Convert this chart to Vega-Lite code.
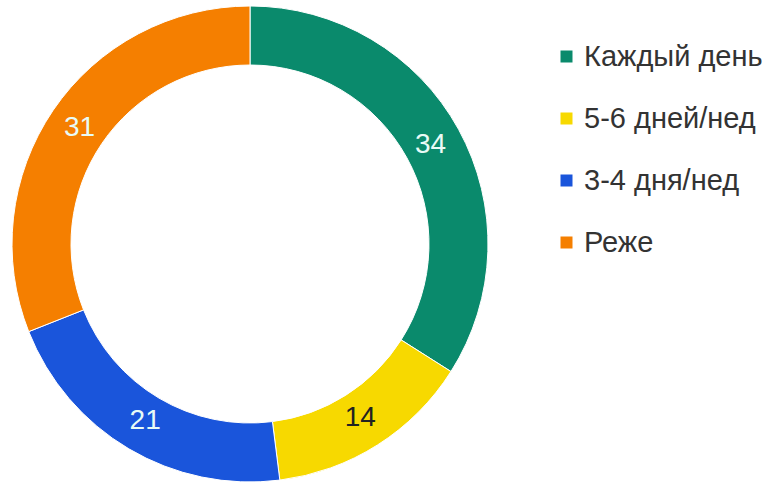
{
  "$schema": "https://vega.github.io/schema/vega-lite/v6.json",
  "width": 500,
  "height": 476,
  "autosize": "none",
  "padding": {"left": 0, "top": 6, "right": 284, "bottom": 0},
  "background": "#ffffff",
  "config": {"view": {"stroke": null}, "font": "Liberation Sans"},
  "data": {
    "values": [
      {"cat": "Каждый день", "value": 34, "ord": 1},
      {"cat": "5-6 дней/нед", "value": 14, "ord": 2},
      {"cat": "3-4 дня/нед", "value": 21, "ord": 3},
      {"cat": "Реже", "value": 31, "ord": 4}
    ]
  },
  "encoding": {
    "theta": {"field": "value", "type": "quantitative", "stack": true},
    "order": {"field": "ord", "type": "quantitative"}
  },
  "layer": [
    {
      "mark": {"type": "arc", "outerRadius": 238, "innerRadius": 179, "stroke": "#ffffff", "strokeWidth": 1},
      "encoding": {
        "color": {
          "field": "cat",
          "type": "nominal",
          "scale": {
            "domain": ["Каждый день", "5-6 дней/нед", "3-4 дня/нед", "Реже"],
            "range": ["#0a8a6c", "#f7d900", "#1a55db", "#f57f00"]
          },
          "legend": {
            "title": null,
            "orient": "none",
            "legendX": 552,
            "legendY": 36,
            "padding": 0,
            "symbolType": "square",
            "symbolSize": 144,
            "symbolStrokeWidth": 0,
            "labelFontSize": 29,
            "labelColor": "#333333",
            "labelFont": "Liberation Sans",
            "labelOffset": 3,
            "rowPadding": 32,
            "labelLimit": 300
          }
        }
      }
    },
    {
      "mark": {"type": "text", "radius": 206, "fontSize": 28, "font": "Liberation Sans"},
      "encoding": {
        "text": {"field": "value", "type": "quantitative"},
        "color": {
          "condition": {"test": "datum.cat === '5-6 дней/нед'", "value": "#222222"},
          "value": "#e8fbf6"
        }
      }
    }
  ]
}
